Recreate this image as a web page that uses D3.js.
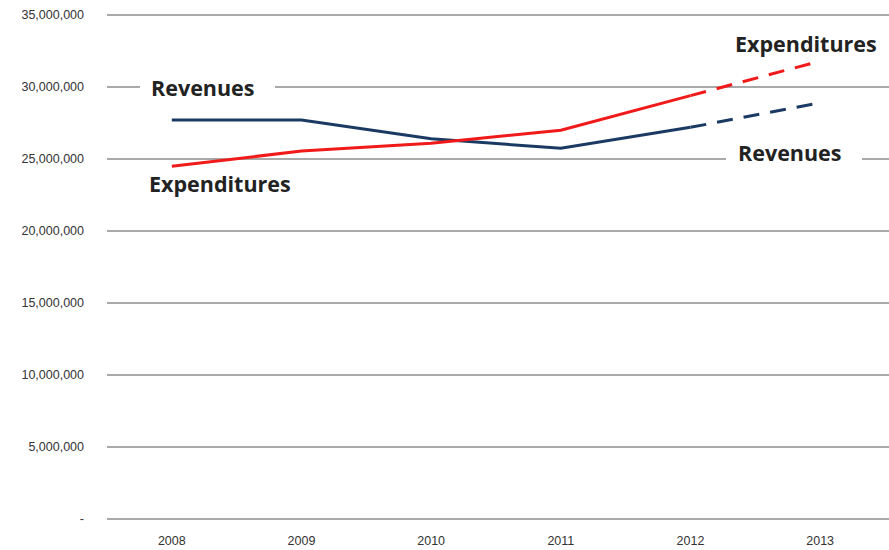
<!DOCTYPE html>
<html>
<head>
<meta charset="utf-8">
<script src="https://cdn.jsdelivr.net/npm/d3@7"></script>
<style>
    body { margin: 0; background: #fff; }
    .tick-label { font-family: "Liberation Sans Narrow", "Liberation Sans", Arial, sans-serif; font-size: 12.5px; fill: #333; }
    .series-label { font-family: "Open Sans", "Noto Sans", sans-serif; font-weight: bold; font-size: 21.5px; fill: #222; }
</style>
</head>
<body>
<svg id="chart" width="889" height="550"></svg>
<script>
/*****************************************************************************
 *  Revenues vs Expenditures, 2008-2013 (2013 projected)
 */

var YEARS = ["2008", "2009", "2010", "2011", "2012", "2013"];
var REVENUES = [27700000, 27700000, 26400000, 25750000, 27200000, 28900000];
var EXPENDITURES = [24500000, 25550000, 26100000, 27000000, 29400000, 31800000];
var Y_TICKS = [0, 5000000, 10000000, 15000000, 20000000, 25000000, 30000000, 35000000];

var REV_COLOR = "#1b3a63";
var EXP_COLOR = "#f01a1a";
var GRID_COLOR = "#8c8c8c";
var LINE_WIDTH = 3;
var DASHARRAY_STYLE = "16,11";
var LAST_ACTUAL = 4; // index of 2012, after that the lines are dashed

var svg = d3.select("#chart");

var xScale = d3.scaleBand()
    .domain(YEARS)
    .range([107, 885]);

var yScale = d3.scaleLinear()
    .domain([0, 35000000])
    .range([519, 15]);

var xCenter = d => xScale(d) + xScale.bandwidth() / 2;

// Render gridlines and y tick labels
for (var t = 0; t < Y_TICKS.length; t++) {
    svg.append("line")
        .attr("class", "gridline")
        .attr("x1", 107)
        .attr("x2", 889)
        .attr("y1", yScale(Y_TICKS[t]))
        .attr("y2", yScale(Y_TICKS[t]))
        .attr("stroke", GRID_COLOR)
        .attr("stroke-width", 1.3);
    svg.append("text")
        .attr("class", "tick-label")
        .attr("text-anchor", "end")
        .attr("x", 84)
        .attr("y", yScale(Y_TICKS[t]) + 4)
        .text(Y_TICKS[t] === 0 ? "-" : d3.format(",")(Y_TICKS[t]));
}

// Render x labels
svg.selectAll(".x-label")
    .data(YEARS)
    .enter()
    .append("text")
    .attr("class", "tick-label x-label")
    .attr("text-anchor", "middle")
    .attr("x", d => xCenter(d))
    .attr("y", 545)
    .text(d => d);

// Series labels, with white box to break the gridline behind them
function addLabel(txt, x, y, boxX0, boxX1) {
    svg.append("rect")
        .attr("x", boxX0)
        .attr("y", y - 20)
        .attr("width", boxX1 - boxX0)
        .attr("height", 27)
        .attr("fill", "#fff");
    svg.append("text")
        .attr("class", "series-label")
        .attr("x", x)
        .attr("y", y)
        .text(txt);
}

addLabel("Revenues", 151, 96, 140, 275);
addLabel("Expenditures", 149, 192, 145, 300);
addLabel("Expenditures", 735, 52, 728, 886);
addLabel("Revenues", 738, 161, 726, 862);

// Render lines: solid for actuals, dashed for projection
var lineGenerator = d3.line()
    .x(d => xCenter(d.year))
    .y(d => yScale(d.value));

function drawSeries(values, color) {
    var pts = YEARS.map((y, i) => ({ year: y, value: values[i] }));
    svg.append("path")
        .attr("d", lineGenerator(pts.slice(0, LAST_ACTUAL + 1)))
        .attr("fill", "none")
        .attr("stroke", color)
        .attr("stroke-width", LINE_WIDTH);
    svg.append("path")
        .attr("d", lineGenerator(pts.slice(LAST_ACTUAL)))
        .attr("fill", "none")
        .attr("stroke", color)
        .attr("stroke-width", LINE_WIDTH)
        .attr("stroke-dasharray", DASHARRAY_STYLE);
}

drawSeries(REVENUES, REV_COLOR);
drawSeries(EXPENDITURES, EXP_COLOR);
</script>
</body>
</html>
